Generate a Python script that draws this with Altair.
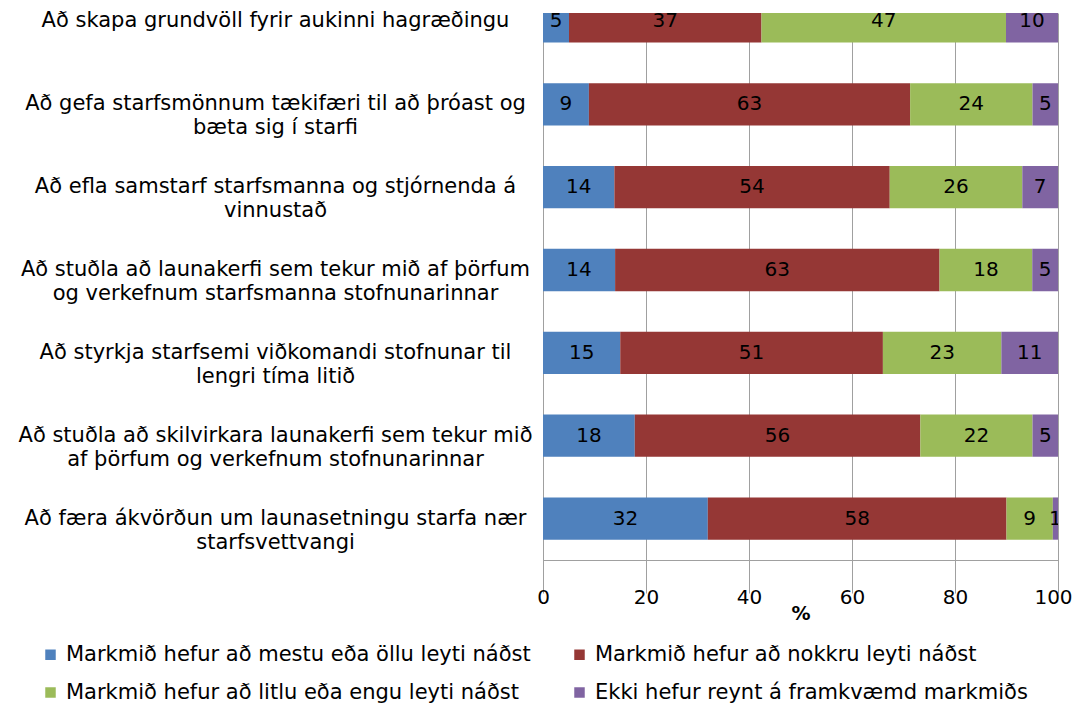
import altair as alt
import pandas as pd

categories = [
    "Að skapa grundvöll fyrir aukinni hagræðingu",
    "Að gefa starfsmönnum tækifæri til að þróast og|bæta sig í starfi",
    "Að efla samstarf starfsmanna og stjórnenda á|vinnustað",
    "Að stuðla að launakerfi sem tekur mið af þörfum|og verkefnum starfsmanna stofnunarinnar",
    "Að styrkja starfsemi viðkomandi stofnunar til|lengri tíma litið",
    "Að stuðla að skilvirkara launakerfi sem tekur mið|af þörfum og verkefnum stofnunarinnar",
    "Að færa ákvörðun um launasetningu starfa nær|starfsvettvangi",
]

series_names = [
    "Markmið hefur að mestu eða öllu leyti náðst",
    "Markmið hefur að nokkru leyti náðst",
    "Markmið hefur að litlu eða engu leyti náðst",
    "Ekki hefur reynt á framkvæmd markmiðs",
]

mestu = [5, 9, 14, 14, 15, 18, 32]
nokkru = [37, 63, 54, 63, 51, 56, 58]
litlu = [47, 24, 26, 18, 23, 22, 9]
ekki = [10, 5, 7, 5, 11, 5, 1]

x_ticks = [0, 20, 40, 60, 80, 100]
colors = ["#4F81BD", "#953735", "#9BBB59", "#8064A2"]

rows = []
for si, (name, vals) in enumerate(zip(series_names, [mestu, nokkru, litlu, ekki])):
    for c, v in zip(categories, vals):
        rows.append({"cat": c, "series": name, "order": si, "value": v})
df = pd.DataFrame(rows)

FONT = "DejaVu Sans"

base = (
    alt.Chart(df)
    .transform_joinaggregate(total="sum(value)", groupby=["cat"])
    .transform_calculate(pct="datum.value / datum.total * 100")
    .transform_stack(stack="pct", groupby=["cat"], as_=["x0", "x1"],
                     sort=[alt.SortField("order", order="ascending")])
    .transform_calculate(mid="(datum.x0 + datum.x1) / 2")
)

y_enc = alt.Y(
    "cat:N",
    sort=categories,
    scale=alt.Scale(range=[-33, 547], paddingInner=0.49, paddingOuter=0.245),
    axis=alt.Axis(
        title=None,
        domain=False,
        ticks=False,
        tickSize=0,
        grid=False,
        labelExpr="split(datum.label, '|')",
        labelAlign="center",
        labelBaseline="middle",
        labelPadding=268,
        labelFont=FONT,
        labelFontSize=21,
        labelLineHeight=24,
        labelColor="#000000",
        labelLimit=0,
    ),
)

bars = base.mark_bar(clip=True).encode(
    x=alt.X(
        "x0:Q",
        scale=alt.Scale(domain=[0, 100], nice=False),
        axis=alt.Axis(
            title="%",
            values=x_ticks,
            grid=True,
            gridColor="#A0A0A0",
            gridWidth=1,
            domainColor="#A0A0A0",
            tickColor="#A0A0A0",
            tickSize=6,
            labelPadding=21,
            labelFont=FONT,
            labelFontSize=20,
            labelColor="#000000",
            labelFlush=False,
            labelOffset={"condition": {"test": "datum.value == 100", "value": -5}, "value": 0},
            titleFont=FONT,
            titleFontSize=19,
            titleFontWeight="bold",
            titleColor="#000000",
            titleBaseline="middle",
            titleY=53,
        ),
    ),
    x2="x1:Q",
    y=y_enc,
    color=alt.Color(
        "series:N",
        sort=series_names,
        scale=alt.Scale(domain=series_names, range=colors),
        legend=alt.Legend(
            title=None,
            orient="none",
            legendX=-503,
            legendY=631,
            direction="horizontal",
            columns=2,
            columnPadding=38,
            rowPadding=16,
            padding=0,
            symbolType="square",
            symbolSize=110,
            symbolStrokeWidth=0,
            labelFont=FONT,
            labelFontSize=21,
            labelColor="#000000",
            labelLimit=700,
            labelOffset=5,
            gridAlign="all",
        ),
    ),
    order=alt.Order("order:Q"),
)

labels = base.mark_text(clip=True, font=FONT, fontSize=20, color="#000000",
                        baseline="middle", align="center").encode(
    x=alt.X("mid:Q"),
    y=alt.Y("cat:N", sort=categories),
    text=alt.Text("value:Q"),
)

chart = (
    alt.layer(bars, labels)
    .properties(
        width=515,
        height=547,
        autosize=alt.AutoSizeParams(type="none"),
        padding={"left": 535, "top": 5, "right": 15, "bottom": 146},
        background="#FFFFFF",
    )
    .configure_view(strokeWidth=0)
)

chart.save("out.html", embed_options={"renderer": "svg", "actions": False})
